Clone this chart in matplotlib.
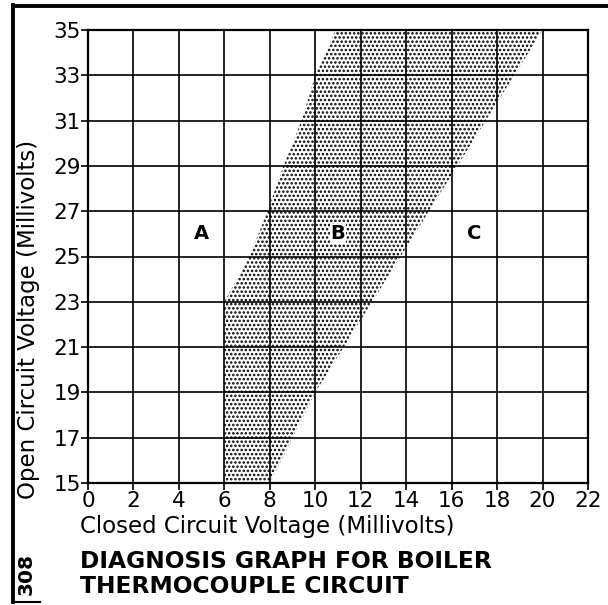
import matplotlib.pyplot as plt
from matplotlib.patches import Polygon
from matplotlib.lines import Line2D

plt.rcParams['font.family'] = ['DejaVu Sans']
plt.rcParams['hatch.linewidth'] = 1.2
plt.rcParams['hatch.color'] = 'black'

# axes ranges and ticks
x_ticks = list(range(0, 23, 2))
y_ticks = list(range(15, 36, 2))

# band B (normal region), corners
band_x = [6, 6, 7.1, 7.9, 8.6, 9.4, 10.0, 10.9, 20.0, 17.5, 15.0, 10.0, 8.0]
band_y = [15, 23, 25, 27, 29, 31, 33, 35, 35, 31, 27, 19, 15]

# region letters
zone_labels = ['A', 'B', 'C']
zone_x = [5, 11, 17]
zone_y = [26, 26, 26]

fig = plt.figure(figsize=(6.08, 6.05), dpi=100)
ax = fig.add_axes([88/608, 1-483/605, 500/608, 453/605])

band = Polygon(list(zip(band_x, band_y)), closed=True, facecolor='white',
               edgecolor='black', hatch='....', linewidth=0, zorder=1)
ax.add_patch(band)

for lab, xx, yy in zip(zone_labels, zone_x, zone_y):
    ax.text(xx, yy, lab, ha='center', va='center', fontsize=14,
            fontweight='bold', zorder=4,
            bbox=dict(facecolor='white', edgecolor='none', pad=0.5) if lab == 'B' else None)

ax.set_xlim(0, 22)
ax.set_ylim(15, 35)
ax.set_xticks(x_ticks)
ax.set_yticks(y_ticks)
ax.grid(True, color='black', linewidth=1.2, zorder=2)
ax.set_axisbelow(False)
for s in ax.spines.values():
    s.set_linewidth(1.6)
ax.tick_params(axis='both', labelsize=15.5, length=5, width=1.2, direction='out')
ax.tick_params(axis='y', pad=0)
ax.tick_params(axis='x', pad=1)

fig.text(80/608, 1-533/605, 'Closed Circuit Voltage (Millivolts)',
         fontsize=16.5, ha='left', va='baseline')
fig.text(29/608, 1-319/605, 'Open Circuit Voltage (Millivolts)',
         fontsize=16.5, rotation=90, ha='center', va='center')
fig.text(80/608, 1-593/605, 'DIAGNOSIS GRAPH FOR BOILER\nTHERMOCOUPLE CIRCUIT',
         fontsize=16.8, fontweight='bold', ha='left', va='baseline',
         linespacing=1.12)
fig.text(26/608, 1-574/605, '308', fontsize=14.5, fontweight='bold',
         rotation=90, ha='center', va='center')

# page frame
fig.add_artist(Line2D([13/608, 13/608], [1-5/605, 1-602/605], transform=fig.transFigure,
                      color='black', linewidth=2.8))
fig.add_artist(Line2D([13/608, 1.0], [1-6/605, 1-6/605], transform=fig.transFigure,
                      color='black', linewidth=2.8))
fig.add_artist(Line2D([13/608, 40/608], [1-602/605, 1-602/605], transform=fig.transFigure,
                      color='black', linewidth=1.5))

fig.savefig('out.png', dpi=100)
